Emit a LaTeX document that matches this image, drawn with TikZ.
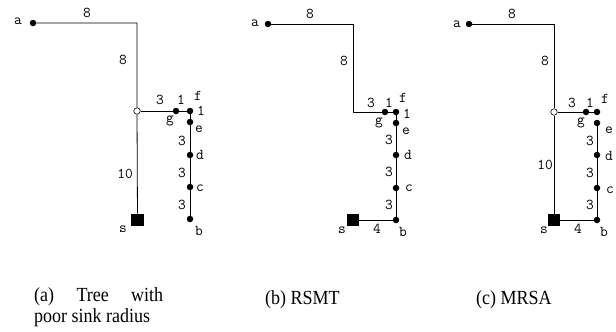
\documentclass[tikz,border=0pt]{standalone}
\usepackage{fontspec}
\setmainfont{Liberation Serif}
\newfontfamily\capfont[FakeStretch=0.9]{Liberation Serif}
\begin{document}
\begin{tikzpicture}[x=1pt,y=-1pt,
  wire/.style={line width=0.8pt},
  dot/.style={circle,fill=black,inner sep=0pt,minimum size=6.5pt},
  hub/.style={circle,draw=black,fill=white,line width=0.6pt,inner sep=0pt,minimum size=6.5pt},
  sink/.style={rectangle,fill=black,inner sep=0pt,minimum size=12.5pt},
  lbl/.style={font=\ttfamily\fontsize{15}{15}\selectfont,inner sep=0pt},
  captxt/.style={font=\capfont\fontsize{20}{21}\selectfont,inner sep=0pt,anchor=base west}]
\useasboundingbox (0,0) rectangle (616,332);

% ---------- (a) tree with poor sink radius ----------
\begin{scope}
\node[dot] (aa) at (33,23) {};
\coordinate (ka) at (137,23);
\node[hub] (ha) at (137,111) {};
\node[dot] (ga) at (176,111) {};
\node[dot] (fa) at (190,111) {};
\node[dot] (ea) at (190,122) {};
\node[dot] (da) at (190,155) {};
\node[dot] (ca) at (190,187) {};
\node[dot] (ba) at (190,219) {};
\node[sink] (sa) at (137.5,220) {};
\draw[wire] (aa) -- (ka) -- (ha) -- (sa);
\draw[wire] (ha) -- (ga) -- (fa) -- (ea) -- (da) -- (ca) -- (ba);
\node[lbl] at (18,21) {a};
\node[lbl] at (87,13) {8};
\node[lbl] at (123,60) {8};
\node[lbl] at (160,100) {3};
\node[lbl] at (181,100) {1};
\node[lbl] at (198,96) {f};
\node[lbl] at (201,111) {1};
\node[lbl] at (170,121) {g};
\node[lbl] at (199,129) {e};
\node[lbl] at (182,141) {3};
\node[lbl] at (200,155) {d};
\node[lbl] at (182,173) {3};
\node[lbl] at (200,188) {c};
\node[lbl] at (182,205) {3};
\node[lbl] at (125,174) {10};
\node[lbl] at (123,229) {s};
\node[lbl] at (199,231) {b};
\end{scope}

% ---------- (b) RSMT ----------
\begin{scope}
\node[dot] (ab) at (268,24) {};
\coordinate (kb) at (353,24);
\coordinate (jb) at (353,112);
\node[dot] (gb) at (385,112) {};
\node[dot] (fb) at (396,112) {};
\node[dot] (eb) at (396,123) {};
\node[dot] (db) at (396,155) {};
\node[dot] (cb) at (396,188) {};
\node[dot] (bb) at (396,220) {};
\node[sink] (sb) at (353,220) {};
\draw[wire] (ab) -- (kb) -- (jb) -- (gb) -- (fb) -- (eb) -- (db) -- (cb) -- (bb) -- (sb);
\node[lbl] at (255,23) {a};
\node[lbl] at (310,14) {8};
\node[lbl] at (344,61) {8};
\node[lbl] at (371,103) {3};
\node[lbl] at (389,103) {1};
\node[lbl] at (403,98) {f};
\node[lbl] at (379,123) {g};
\node[lbl] at (407,114) {1};
\node[lbl] at (406,131) {e};
\node[lbl] at (389,140) {3};
\node[lbl] at (408,155) {d};
\node[lbl] at (389,172) {3};
\node[lbl] at (409,188) {c};
\node[lbl] at (389,205) {3};
\node[lbl] at (342,230) {s};
\node[lbl] at (377,229) {4};
\node[lbl] at (403,232) {b};
\end{scope}

% ---------- (c) MRSA ----------
\begin{scope}
\node[dot] (ac) at (469,24) {};
\coordinate (kc) at (554,24);
\node[hub] (hc) at (554,112) {};
\node[dot] (gc) at (586,112) {};
\node[dot] (fc) at (597,112) {};
\node[dot] (ec) at (597,123) {};
\node[dot] (dc) at (597,155) {};
\node[dot] (cc) at (597,188) {};
\node[dot] (bc) at (597,220) {};
\node[sink] (sc) at (554,220) {};
\draw[wire] (ac) -- (kc) -- (hc) -- (sc) -- (bc);
\draw[wire] (hc) -- (gc) -- (fc);
\draw[wire] (ec) -- (dc) -- (cc) -- (bc);
\node[lbl] at (457,24) {a};
\node[lbl] at (512,14) {8};
\node[lbl] at (545,61) {8};
\node[lbl] at (572,103) {3};
\node[lbl] at (590,103) {1};
\node[lbl] at (605,99) {f};
\node[lbl] at (581,123) {g};
\node[lbl] at (609,130) {e};
\node[lbl] at (545,165) {10};
\node[lbl] at (590,141) {3};
\node[lbl] at (609,156) {d};
\node[lbl] at (590,173) {3};
\node[lbl] at (610,190) {c};
\node[lbl] at (590,205) {3};
\node[lbl] at (544,230) {s};
\node[lbl] at (578,229) {4};
\node[lbl] at (604,232) {b};
\end{scope}

% ---------- captions ----------
\node[captxt,anchor=north west,text width=129pt,align=justify] (capa) at (34,287)
  {(a) Tree with\linebreak poor sink radius};
\node[captxt] (capb) at (265,304) {(b) RSMT};
\node[captxt] (capc) at (476,304) {(c) MRSA};
\end{tikzpicture}
\end{document}
